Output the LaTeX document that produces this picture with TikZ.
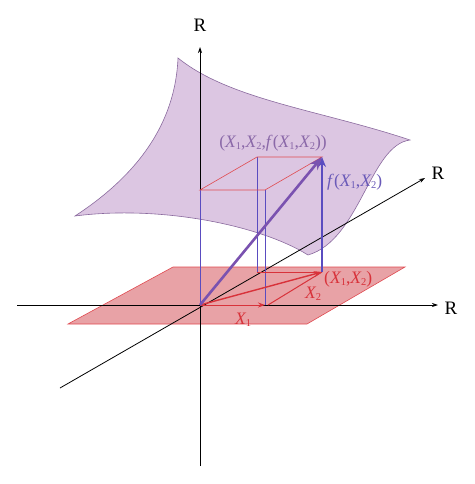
\documentclass[tikz,border=0pt]{standalone}
\usepackage{fontspec}
\setmainfont{Liberation Serif}
\usetikzlibrary{arrows.meta}
\definecolor{surfFill}{HTML}{DCC6E2}
\definecolor{surfLine}{HTML}{8A6A9E}
\definecolor{planeFill}{HTML}{E8A2A6}
\definecolor{planeLine}{HTML}{E04A50}
\definecolor{redVec}{HTML}{D8323A}
\definecolor{purpVec}{HTML}{7A52B0}
\definecolor{blueLine}{HTML}{5A4CC0}
\definecolor{labPurp}{HTML}{8A68A8}
\definecolor{labBlue}{HTML}{6A5AB8}
\newcommand{\Xs}[1]{\textit{X}\kern-0.5pt\raisebox{-0.25ex}{\scalebox{0.6}{#1}}}
\tikzset{
  axis/.style={black, line width=0.8pt, -{Stealth[length=6pt,width=4pt]}},
  boxline/.style={planeLine, line width=0.6pt},
  vline/.style={blueLine, line width=0.6pt},
  redarrow/.style={redVec, line width=1.4pt, -{Stealth[length=8pt,width=6pt]}},
  thinred/.style={redVec, line width=1pt},
  lab/.style={font=\fontsize{17.5}{19}\selectfont, inner sep=0pt},
  rlab/.style={font=\fontsize{19}{21}\selectfont, inner sep=0pt},
}
\begin{document}
\begin{tikzpicture}[x=1pt,y=-1pt]
\useasboundingbox (0,0) rectangle (474,484);
% surface
\path[fill=surfFill, draw=surfLine, line width=0.6pt]
  (178,58) .. controls (230,100) and (320,110) .. (410,140)
  .. controls (370,145) and (360,240) .. (308,255)
  .. controls (260,225) and (160,205) .. (75,216)
  .. controls (130,180) and (175,130) .. (178,58) -- cycle;
% plane
\path[fill=planeFill, draw=planeLine, line width=0.6pt]
  (173,267) -- (405,267) -- (307,324) -- (68,324) -- cycle;
% key points
\coordinate (O) at (200,305);
\coordinate (A) at (265,305);
\coordinate (B) at (322,272);
\coordinate (C) at (257,272);
\coordinate (Ot) at (200,190);
\coordinate (At) at (265,190);
\coordinate (Bt) at (322,157);
\coordinate (Ct) at (257,157);
% axes
\coordinate (vbot) at (200,466);
\coordinate (vtop) at (200,47);
\coordinate (hl) at (17,305);
\coordinate (hr) at (438,305);
\coordinate (dl) at (60,388);
\coordinate (dr) at (425,178);
\draw[axis] (vbot) -- (vtop);
\draw[axis] (hl) -- (hr);
\draw[axis] (dl) -- (dr);
\node[rlab] (Rv) at (200,25) {R};
\node[rlab] (Rd) at (438,173) {R};
\node[rlab] (Rh) at (451,308) {R};
% box
\draw[vline] (O) -- (Ot);
\draw[vline] (A) -- (At);
\draw[vline] (C) -- (Ct);
\draw[boxline] (Ot) -- (At) -- (Bt) -- (Ct) -- cycle;
\draw[thinred] (C) -- (B);
% vectors in plane
\draw[redVec, line width=1pt, -{Stealth[length=7pt,width=5pt]}] (O) -- (A);
\draw[thinred] (268,305) -- (B);
\draw[redarrow] (O) -- (B);
% vertical f arrow and purple vector
\draw[blueLine, line width=2pt, -{Stealth[length=10pt,width=8pt]}] (B) -- (Bt);
\draw[purpVec, line width=2.6pt, -{Stealth[length=13pt,width=10pt]}] (O) -- (Bt);
% labels
\node[lab, text=labPurp] (Lp) at (273,143) {(\Xs{1},\Xs{2},\textit{f}(\Xs{1},\Xs{2}))};
\node[lab, text=labBlue, anchor=west] (Lf) at (327,182) {\textit{f}(\Xs{1},\Xs{2})};
\node[lab, text=redVec, anchor=west] (Lxx) at (324,279) {(\Xs{1},\Xs{2})};
\node[lab, text=redVec] (L2) at (313,294) {\Xs{2}};
\node[lab, text=redVec] (L1) at (243,320) {\Xs{1}};
\end{tikzpicture}
\end{document}
